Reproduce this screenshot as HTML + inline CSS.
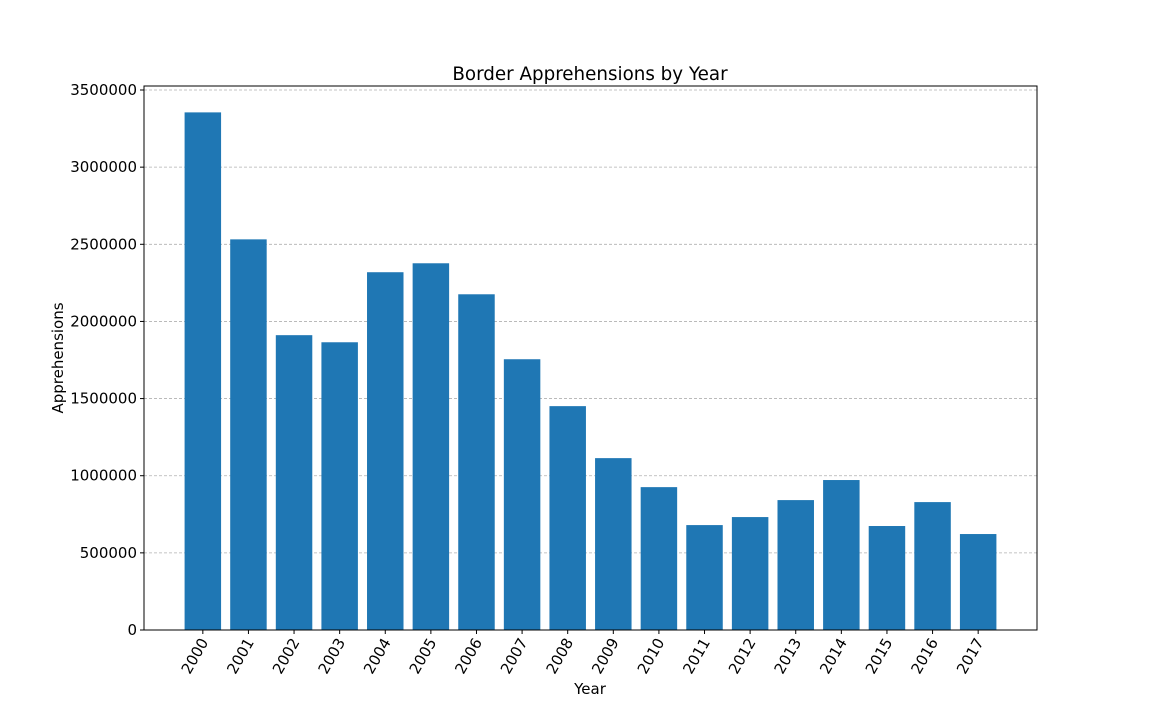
<!DOCTYPE html>
<html><head><meta charset="utf-8"><style>
html,body{margin:0;padding:0;background:#fff;}
svg{display:block;font-family:"DejaVu Sans","Liberation Sans",sans-serif;}
</style></head><body>
<svg id="chart" width="1152" height="720" viewBox="0 0 1152 720" xmlns="http://www.w3.org/2000/svg">
<rect width="1152" height="720" fill="#fff"/>
<g id="grid"></g>
<g id="bars"></g>
<rect x="144" y="86" width="893" height="544" fill="none" stroke="#000" stroke-width="1"/>
<g id="axes"></g>
<text x="590" y="80" text-anchor="middle" font-size="18.3">Border Apprehensions by Year</text>
<text x="590" y="694" text-anchor="middle" font-size="15">Year</text>
<text transform="translate(63,358) rotate(-90)" text-anchor="middle" font-size="15">Apprehensions</text>
</svg>
<script>
const categories=["2000","2001","2002","2003","2004","2005","2006","2007","2008","2009","2010","2011","2012","2013","2014","2015","2016","2017"];
const values=[3355000,2532000,1911000,1865000,2319000,2377000,2176000,1755000,1451000,1114000,926000,680000,732000,842000,972000,674000,829000,622000];
const yTicks=[0,500000,1000000,1500000,2000000,2500000,3000000,3500000];
const NS="http://www.w3.org/2000/svg";
const L=144,R=1037,T=86,B=630;
const xMin=-1.29,xMax=categories.length-1+1.29,yMax=3526000;
const xs=i=>L+(i-xMin)/(xMax-xMin)*(R-L);
const ys=v=>B-v/yMax*(B-T);
function mk(tag,attrs,parent){const e=document.createElementNS(NS,tag);for(const k in attrs)e.setAttribute(k,attrs[k]);parent.appendChild(e);return e;}
const grid=document.getElementById('grid'),bars=document.getElementById('bars'),axes=document.getElementById('axes');
const bw=(xs(1)-xs(0))*0.8;
yTicks.forEach(t=>{
  const y=ys(t);
  const g=mk('line',{x1:L,x2:R,y1:y,y2:y,stroke:'#b0b0b0','stroke-width':0.8,'stroke-dasharray':'3,2'},grid);
  
  
  const tk=mk('line',{x1:L-4,x2:L,y1:y,y2:y,stroke:'#000'},axes);
  
  
  const tx=mk('text',{x:L-7,y:y+5,'text-anchor':'end','font-size':15},axes);
  tx.textContent=String(t);
  
  
});
categories.forEach((c,i)=>{
  const x=xs(i);
  const r=mk('rect',{x:x-bw/2,y:ys(values[i]),width:bw,height:B-ys(values[i]),fill:'#1f77b4'},bars);
  
  
  const tk=mk('line',{x1:x,x2:x,y1:B,y2:B+4,stroke:'#000'},axes);
  
  
  const tx=mk('text',{transform:`translate(${x+6},${B+12}) rotate(-60)`,'text-anchor':'end','font-size':15},axes);
  tx.textContent=c;
  
  
});
</script>
</body></html>
